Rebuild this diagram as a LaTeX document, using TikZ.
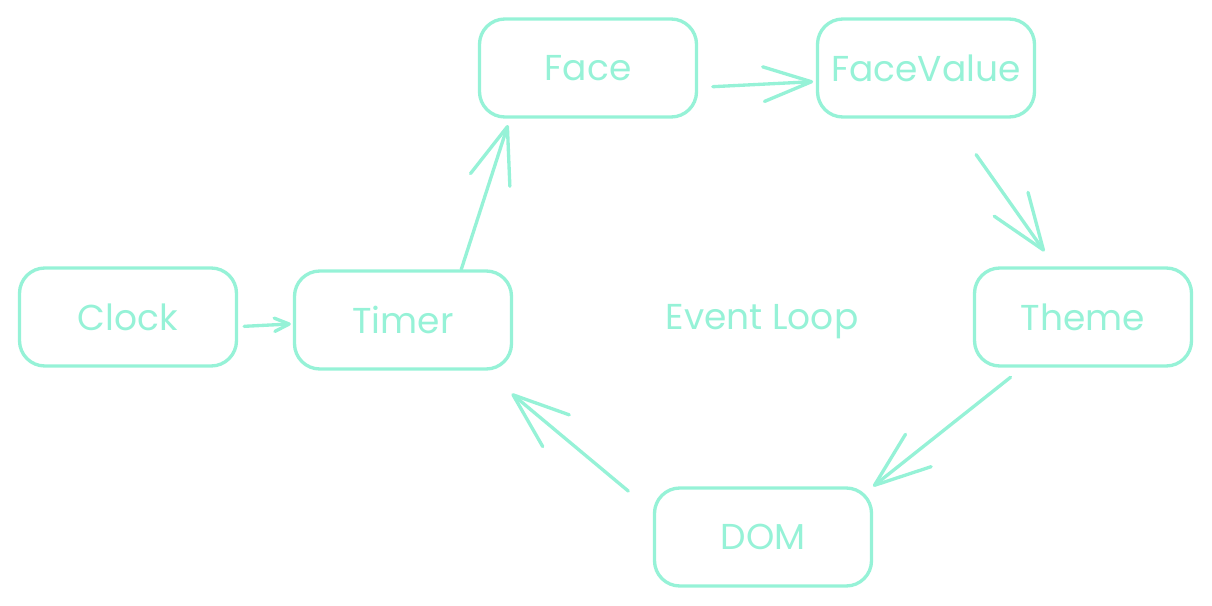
\documentclass[tikz,border=0pt]{standalone}
\usepackage{fontspec}
\setmainfont{Poppins}
\usetikzlibrary{arrows.meta}
\definecolor{mint}{HTML}{96F2D7}
\tikzset{
  box/.style={draw=mint, line width=2.5pt, rounded corners=19pt,
    minimum width=162.75pt, minimum height=73.5pt, inner sep=0pt,
    text=mint, font=\fontsize{27}{32}\selectfont},
  conn/.style={draw=mint, line width=2.5pt, line cap=round, line join=round,
    -{Straight Barb[length=42pt,width=31pt,line cap=round,line join=round]}},
  shortconn/.style={conn, -{Straight Barb[length=11pt,width=10pt,line cap=round,line join=round]}},
  lbl/.style={text=mint, font=\fontsize{27}{32}\selectfont}
}
\begin{document}
\begin{tikzpicture}[x=0.75pt,y=-0.75pt]
\useasboundingbox (0,0) rectangle (1212,606);
\node[box] (clock) at (128,317) {Clock};
\node[box] (timer) at (403,320) {Timer};
\node[box] (face) at (588,68) {Face};
\node[box] (fv) at (926,68) {FaceValue};
\node[box] (theme) at (1083,317) {Theme};
\node[box] (dom) at (763,537) {DOM};
\node[lbl] (loop) at (762,322) {Event Loop};

\draw[shortconn, shorten <=4.5pt, shorten >=1.5pt] (clock.-5) -- (timer.182);
\draw[conn, shorten >=5pt] (timer.41) -- (face.213.5);
\draw[conn, shorten <=11pt, shorten >=2pt, -{Straight Barb[length=36pt,width=26pt,line cap=round,line join=round]}] (face.-10) -- (fv.187);
\draw[conn, shorten <=33pt, shorten >=13.7pt] (fv.-64) -- (theme.119);
\draw[conn, shorten <=11.6pt] (theme.220) -- (dom.north east);
\draw[conn, shorten <=24pt, shorten >=27pt] (dom.167) -- (timer.-32.5);
\end{tikzpicture}
\end{document}
